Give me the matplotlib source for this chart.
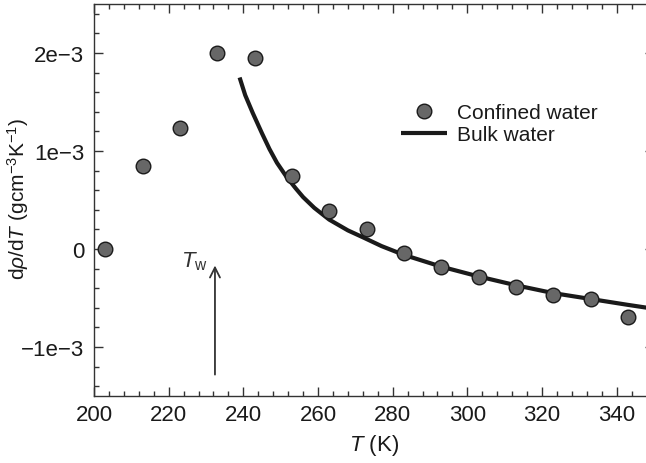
import matplotlib
matplotlib.use("Agg")
import matplotlib.pyplot as plt
from matplotlib.ticker import MultipleLocator, FixedLocator, FixedFormatter

plt.rcParams['font.family'] = ['Liberation Sans', 'DejaVu Sans']
plt.rcParams['mathtext.fontset'] = 'custom'
plt.rcParams['mathtext.rm'] = 'Liberation Sans'
plt.rcParams['mathtext.it'] = 'Liberation Sans:italic'

# Confined water (dρ/dT in units of 1e-3 g cm^-3 K^-1)
T_conf = [203, 213, 223, 233, 243, 253, 263, 273, 283, 293, 303, 313, 323, 333, 343]
d_conf = [0.0, 0.85, 1.23, 2.0, 1.95, 0.74, 0.39, 0.20, -0.04, -0.18, -0.29, -0.39, -0.47, -0.51, -0.69]

# Bulk water curve
T_bulk = [239, 240.5, 242.5, 245, 247, 249, 251.5, 254, 256, 259, 263, 268, 272, 277,
          283, 293, 303, 313, 323, 333, 343, 350]
d_bulk = [1.75, 1.57, 1.39, 1.18, 1.02, 0.88, 0.74, 0.62, 0.53, 0.42, 0.30, 0.19, 0.12, 0.03,
          -0.06, -0.18, -0.28, -0.37, -0.45, -0.51, -0.57, -0.61]

ytick_vals = [-1, 0, 1, 2]
ytick_labels = ['\u22121e\u22123', '0', '1e\u22123', '2e\u22123']

fig = plt.figure(figsize=(6.46, 4.64), dpi=100)
ax = fig.add_axes([94/646, 67/464, 560/646, 392/464])

scale = 1e-3
ax.plot(T_bulk, [v * scale for v in d_bulk], color='#1a1a1a', lw=3.0,
        solid_capstyle='butt', solid_joinstyle='round', label='Bulk water', zorder=2)
ax.plot(T_conf, [v * scale for v in d_conf], linestyle='none', marker='o',
        markersize=10.5, markerfacecolor='#676767', markeredgecolor='#1a1a1a',
        markeredgewidth=1.0, label='Confined water', zorder=3)

ax.set_xlim(200, 350)
ax.set_ylim(-1.5e-3, 2.5e-3)

ax.xaxis.set_major_locator(MultipleLocator(20))
ax.xaxis.set_minor_locator(MultipleLocator(4))
ax.yaxis.set_major_locator(FixedLocator([v * scale for v in ytick_vals]))
ax.yaxis.set_major_formatter(FixedFormatter(ytick_labels))
ax.yaxis.set_minor_locator(MultipleLocator(0.2e-3))

ax.tick_params(which='both', direction='in', top=True, right=True,
               colors='#333333', labelcolor='#1a1a1a', labelsize=16, width=1.0)
ax.tick_params(which='major', length=6.5, pad=6)
ax.tick_params(which='minor', length=3.6)
ax.tick_params(axis='y', which='major', pad=7)
for s in ax.spines.values():
    s.set_color('#333333')
    s.set_linewidth(1.0)

ax.set_xlabel('$T$ (K)', fontsize=16, color='#1a1a1a', labelpad=5)
ax.set_ylabel('d$\\rho$/d$T$ (gcm$^{-3}$K$^{-1}$)', fontsize=15, color='#1a1a1a',
              va='center')
ax.yaxis.set_label_coords(-0.136, 0.505)

ax.annotate('', xy=(232.4, -0.14e-3), xytext=(232.4, -1.31e-3),
            arrowprops=dict(arrowstyle='->', color='#333333', lw=1.3,
                            mutation_scale=18))
ax.text(230.6, -0.12e-3, '$T_\\mathrm{w}$', fontsize=16, color='#333333',
        ha='right', va='center')

handles, labels = ax.get_legend_handles_labels()
leg = ax.legend(handles[::-1], labels[::-1], loc='upper left',
                bbox_to_anchor=(0.515, 0.795), frameon=False, fontsize=15,
                handlelength=2.2, handletextpad=0.5, labelspacing=0.15,
                labelcolor='#1a1a1a')

fig.savefig('out.png', dpi=100)
